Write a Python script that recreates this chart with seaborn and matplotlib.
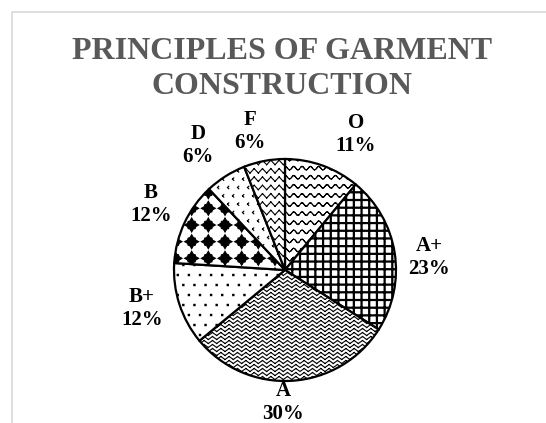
import warnings
import numpy as np
import matplotlib
matplotlib.use('Agg')
import matplotlib.pyplot as plt
import seaborn as sns
from matplotlib import hatch as mhatch
from matplotlib.path import Path
from matplotlib.patches import Rectangle

# Data
grades = ['O', 'A+', 'A', 'B+', 'B', 'D', 'F']
percent = [11, 23, 30, 12, 12, 6, 6]
title = 'PRINCIPLES OF GARMENT\nCONSTRUCTION'

# one texture key per slice (custom hatches registered below)
hatches = ['~', 'g', 'z', ',', 'd', 'v', 's']

# label offsets from the pie centre, in pixels (x right, y up)
label_offsets = [(71, 136), (144, 13), (-2, -132), (-143, -38),
                 (-134, 66), (-87, 125), (-35, 139)]

sns.set_style('white')
plt.rcParams['font.family'] = ['Liberation Serif', 'DejaVu Serif']
plt.rcParams['hatch.linewidth'] = 0.8
plt.rcParams['hatch.color'] = 'black'

warnings.filterwarnings('ignore')
mhatch._validate_hatch_pattern = lambda h: None


# ---- custom hatch textures (tile is 100 px at dpi 100) ----
def segs(points):
    pts = np.asarray(points, float)
    v = np.empty((2 * (len(pts) - 1), 2))
    v[0::2] = pts[:-1]
    v[1::2] = pts[1:]
    c = np.tile([Path.MOVETO, Path.LINETO], len(pts) - 1).astype(Path.code_type)
    return v, c


def poly(points):
    pts = np.vstack([points, points[:1]])
    c = np.full(len(pts), Path.LINETO, dtype=Path.code_type)
    c[0] = Path.MOVETO
    c[-1] = Path.CLOSEPOLY
    return pts, c


def join(parts):
    return (np.concatenate([p[0] for p in parts]),
            np.concatenate([p[1] for p in parts]))


def wave_rows(n_rows, n_periods, p2p, steps):
    parts = []
    s = 100 / n_rows
    x = np.linspace(0, 100, n_periods * steps + 1)
    if steps == 2:
        y_off = np.where(np.arange(len(x)) % 2 == 0, -p2p / 2, p2p / 2)
    else:
        y_off = p2p / 2 * np.sin(2 * np.pi * x / (100 / n_periods))
    for i in range(n_rows):
        parts.append(segs(np.column_stack([x, (i + 0.5) * s + y_off])))
    return join(parts)


def grid_lines(n, w):
    parts = []
    for k in range(n + 1):
        p = k * 100 / n
        parts.append(poly(np.array([[p - w / 2, -1], [p + w / 2, -1],
                                    [p + w / 2, 101], [p - w / 2, 101]])))
        parts.append(poly(np.array([[-1, p - w / 2], [101, p - w / 2],
                                    [101, p + w / 2], [-1, p + w / 2]])))
    return join(parts)


def dot_grid(n_cols, n_rows, size):
    parts = []
    for r in range(n_rows):
        y = (r + 0.5) * 100 / n_rows
        shift = 0.5 if r % 2 else 0.0
        for j in range(n_cols + 1):
            x = (j + shift) * 100 / n_cols
            h = size / 2
            parts.append(poly(np.array([[x - h, y - h], [x + h, y - h],
                                        [x + h, y + h], [x - h, y + h]])))
    return join(parts)


def star_grid(n, r_tip, r_body):
    parts = []
    ang = np.arange(16) * np.pi / 8
    rad = np.where(np.arange(16) % 4 == 0, r_tip,
                   np.where(np.arange(16) % 2 == 0, r_body, r_body * 0.88))
    shape = np.column_stack([rad * np.cos(ang), rad * np.sin(ang)])
    for i in range(n):
        for j in range(n):
            c = np.array([(j + 0.5) * 100 / n, (i + 0.5) * 100 / n])
            parts.append(poly(shape + c))
    return join(parts)


def tick_grid(n_cols, n_rows):
    parts = []
    for r in range(n_rows):
        y = (r + 0.5) * 100 / n_rows
        shift = 0.5 if r % 2 else 0.0
        for j in range(n_cols):
            x = (j + 0.25 + shift) * 100 / n_cols
            parts.append(segs([[x + 1.3, y + 1.3], [x, y], [x + 1.3, y - 1.3]]))
    return join(parts)


class PixelHatch(mhatch.HatchPatternBase):
    key = None
    maker = None

    def __init__(self, hatch, density):
        if hatch and self.key in hatch:
            self.verts, self.kinds = type(self).maker()
        else:
            self.verts = np.zeros((0, 2))
            self.kinds = np.zeros(0, dtype=Path.code_type)
        self.num_vertices = len(self.verts)

    def set_vertices_and_codes(self, vertices, codes):
        vertices[:] = self.verts / 100.0
        codes[:] = self.kinds


def make_hatch(key, fn):
    return type('Hatch_' + str(ord(key)), (PixelHatch,),
                {'key': key, 'maker': staticmethod(fn)})


mhatch._hatch_types.extend([
    make_hatch('~', lambda: wave_rows(11, 12, 3.5, 8)),
    make_hatch('g', lambda: grid_lines(13, 1.1)),
    make_hatch('z', lambda: wave_rows(25, 12, 3.0, 2)),
    make_hatch(',', lambda: dot_grid(9, 10, 1.3)),
    make_hatch('d', lambda: star_grid(6, 7.0, 5.0)),
    make_hatch('v', lambda: tick_grid(10, 12)),
    make_hatch('s', lambda: wave_rows(12, 12, 4.5, 2)),
])

# ---- figure ----
W, H = 546, 423
fig = plt.figure(figsize=(W / 100, H / 100), dpi=100)
fig.patch.set_facecolor('white')
ax = fig.add_axes([0, 0, 1, 1])

center = (285, H - 270)
radius = 111
wedges, _ = ax.pie(percent, startangle=90, counterclock=False,
                   colors=['white'] * len(percent), center=center, radius=radius,
                   wedgeprops=dict(edgecolor='black', linewidth=1.6))
for w, h in zip(wedges, hatches):
    w.set_hatch(h)

ax.set_aspect('auto')
ax.set_xlim(0, W)
ax.set_ylim(0, H)
ax.axis('off')

for g, p, (dx, dy) in zip(grades, percent, label_offsets):
    ax.text(center[0] + dx, center[1] + dy, f'{g}\n{p}%', ha='center',
            va='center', fontsize=15, fontweight='bold', color='black',
            linespacing=1.2)

fig.text(282 / W, 1 - 69 / H, title, ha='center', va='center',
         fontsize=23, fontweight='bold', color='#595959', linespacing=1.23)

fig.add_artist(Rectangle((12 / W, -0.05), 1.2, (H - 12) / H + 0.05,
                         transform=fig.transFigure, fill=False,
                         edgecolor='#d9d9d9', linewidth=1.2))

fig.savefig('out.png', dpi=100)
